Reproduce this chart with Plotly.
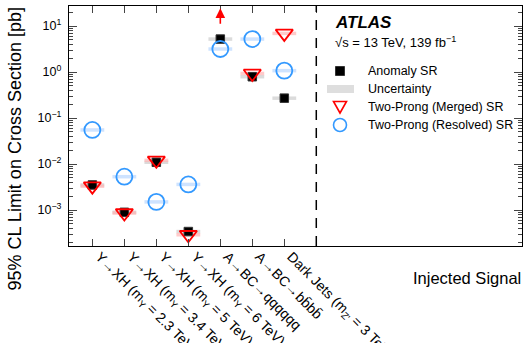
import plotly.graph_objects as go
import math

categories = [
    "Y→XH (m<sub>Y</sub> = 2.3 TeV)",
    "Y→XH (m<sub>Y</sub> = 3.4 TeV)",
    "Y→XH (m<sub>Y</sub> = 5 TeV)",
    "Y→XH (m<sub>Y</sub> = 6 TeV)",
    "A→BC→qqqqqq",
    "A→BC→bb\u0304bb\u0304",
    "Dark Jets (m<sub>Z'</sub> = 3 TeV)",
]
anomaly_sr = [3.5e-3, 8.9e-4, 1.09e-2, 3.4e-4, 5.2, 0.79, 0.27]
merged_sr = [3.3e-3, 8.6e-4, 1.2e-2, 2.9e-4, None, 0.93, 6.9]
merged_offscale = [False, False, False, False, True, False, False]
resolved_sr = [5.5e-2, 5.3e-3, 1.5e-3, 3.6e-3, 3.16, 5.2, 1.07]

legend_labels = ["Anomaly SR", "Uncertainty", "Two-Prong (Merged) SR", "Two-Prong (Resolved) SR"]

y_tick_vals = [1e-3, 1e-2, 1e-1, 1, 10]
y_tick_text = ["10<sup>−3</sup>", "10<sup>−2</sup>", "10<sup>−1</sup>", "10<sup>0</sup>", "10<sup>1</sup>"]

xpos = list(range(len(categories)))
FONT = "Liberation Sans, Arial, sans-serif"
BLUE = "#3399ff"
RED = "#ff0000"
W, H = 526, 343
ML, MR, MT, MB = 69, 4, 6, 97
PW, PH = W - ML - MR, H - MT - MB

def px(xp):
    return (xp - ML) / PW

def py(yp):
    return 1 - (yp - MT) / PH

fig = go.Figure()

# uncertainty bands
def band(vals, color):
    xs = [x for x, v in zip(xpos, vals) if v is not None]
    ys = [v for v in vals if v is not None]
    fig.add_trace(go.Scatter(x=xs, y=ys, mode="markers", showlegend=False, hoverinfo="skip",
                             marker=dict(symbol="line-ew", size=17,
                                         line=dict(width=3.5, color=color))))

band(anomaly_sr, "rgba(215,215,215,0.9)")
band(merged_sr, "rgba(255,180,180,0.7)")
band(resolved_sr, "rgba(185,215,255,0.7)")

fig.add_trace(go.Scatter(x=xpos, y=anomaly_sr, mode="markers", name=legend_labels[0], showlegend=False,
                         marker=dict(symbol="square", size=8.5, color="black",
                                     line=dict(width=1, color="#333"))))
fig.add_trace(go.Scatter(x=xpos, y=merged_sr, mode="markers", name=legend_labels[2], showlegend=False,
                         marker=dict(symbol="triangle-down-open", size=15, color=RED,
                                     line=dict(width=1.8, color=RED))))
fig.add_trace(go.Scatter(x=xpos, y=resolved_sr, mode="markers", name=legend_labels[3], showlegend=False,
                         marker=dict(symbol="circle-open", size=16, color=BLUE,
                                     line=dict(width=1.8, color=BLUE))))

ylog_range = [math.log10(1.65e-4), 1.435]

# off-scale arrows
for x, off in zip(xpos, merged_offscale):
    if off:
        fig.add_annotation(x=x, y=ylog_range[1] - 0.05, ax=x, ay=ylog_range[1] - 0.42,
                           xref="x", yref="y", axref="x", ayref="y", text="",
                           showarrow=True, arrowhead=2, arrowsize=1.2, arrowwidth=1.6,
                           arrowcolor=RED)

# dashed separator
n = len(categories)
fig.add_shape(type="line", x0=n, x1=n, y0=0, y1=1, xref="x", yref="paper",
              line=dict(color="black", width=1.5, dash="10px,8px"))

# manual legend
sym_x = 340
row_y = [71, 89, 107, 125]
fig.add_shape(type="rect", xref="paper", yref="paper",
              x0=px(sym_x - 4.5), x1=px(sym_x + 4.5), y0=py(row_y[0] + 4.5), y1=py(row_y[0] - 4.5),
              fillcolor="black", line=dict(color="#333", width=1))
fig.add_shape(type="rect", xref="paper", yref="paper",
              x0=px(sym_x - 13), x1=px(sym_x + 14), y0=py(row_y[1] + 4), y1=py(row_y[1] - 4),
              fillcolor="rgb(222,222,222)", line=dict(width=0))
fig.add_shape(type="path", xref="paper", yref="paper",
              path=f"M {px(sym_x-6.5)},{py(row_y[2]-5.5)} L {px(sym_x+6.5)},{py(row_y[2]-5.5)} L {px(sym_x)},{py(row_y[2]+6)} Z",
              line=dict(color=RED, width=1.6))
fig.add_shape(type="circle", xref="paper", yref="paper",
              x0=px(sym_x - 6.5), x1=px(sym_x + 6.5), y0=py(row_y[3] + 6.5), y1=py(row_y[3] - 6.5),
              line=dict(color=BLUE, width=1.6))
for lab, ry in zip(legend_labels, row_y):
    fig.add_annotation(xref="paper", yref="paper", x=px(366), y=py(ry), xanchor="left", yanchor="middle",
                       text=lab, showarrow=False, font=dict(size=12.5, family=FONT))

minor_vals = [m * 10 ** e for e in range(-4, 2) for m in range(2, 10)]

fig.update_layout(
    width=W, height=H,
    margin=dict(l=ML, r=MR, t=MT, b=MB, autoexpand=False),
    plot_bgcolor="white", paper_bgcolor="white",
    font=dict(family=FONT, color="black", size=12),
    showlegend=False,
    xaxis=dict(range=[-0.73, 13.43], tickmode="array", tickvals=xpos + [n],
               ticktext=categories + [""], tickangle=45, ticks="inside", ticklen=7,
               ticklabelshift=7, ticklabelstandoff=-4,
               showline=True, linecolor="black", linewidth=1.2, mirror="ticks",
               showgrid=False, zeroline=False, tickfont=dict(size=14), automargin=False),
    yaxis=dict(type="log", range=ylog_range, tickmode="array", tickvals=y_tick_vals,
               ticktext=y_tick_text, ticks="inside", ticklen=8,
               showline=True, linecolor="black", linewidth=1.2, mirror="ticks",
               showgrid=False, zeroline=False, tickfont=dict(size=12.5), automargin=False,
               ticklabelstandoff=4,
               minor=dict(tickmode="array", tickvals=minor_vals, ticks="inside",
                          ticklen=4, showgrid=False)),
)

fig.add_annotation(xref="paper", yref="paper", x=px(333), y=py(23), xanchor="left", yanchor="middle",
                   text="<b><i>ATLAS</i></b>", showarrow=False, font=dict(size=17, family=FONT))
fig.add_annotation(xref="paper", yref="paper", x=px(333), y=py(42), xanchor="left", yanchor="middle",
                   text="√s = 13 TeV, 139 fb<sup>−1</sup>", showarrow=False, font=dict(size=13, family=FONT))

fig.add_annotation(xref="paper", yref="paper", x=px(523), y=py(278), xanchor="right", yanchor="middle",
                   text="Injected Signal", showarrow=False, font=dict(size=16.5, family=FONT))
fig.add_annotation(xref="paper", yref="paper", x=px(14), y=py(6), xanchor="center", yanchor="top",
                   text="95% CL Limit on Cross Section [pb]", textangle=-90, showarrow=False,
                   font=dict(size=18, family=FONT))

fig.write_html("out.html", config={"displayModeBar": False},
               post_script="document.body.style.margin='0';document.body.style.overflow='hidden';")
